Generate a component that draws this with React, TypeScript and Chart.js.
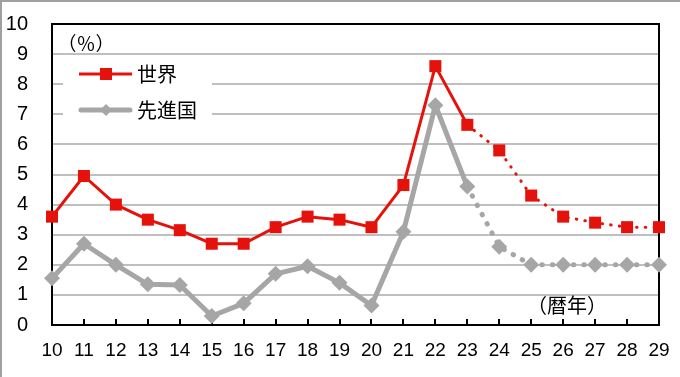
import React, { useEffect, useRef } from "react";
import { Chart, registerables } from "chart.js";

Chart.register(...registerables);

const years = ["10","11","12","13","14","15","16","17","18","19","20","21","22","23","24","25","26","27","28","29"];
const world = [3.6, 4.95, 4.0, 3.5, 3.15, 2.7, 2.7, 3.25, 3.6, 3.5, 3.25, 4.65, 8.6, 6.65, 5.8, 4.3, 3.6, 3.4, 3.25, 3.25];
const advanced = [1.55, 2.7, 2.0, 1.35, 1.33, 0.3, 0.72, 1.7, 1.95, 1.4, 0.65, 3.1, 7.3, 4.6, 2.6, 2.0, 2.0, 2.0, 2.0, 2.0];
const seriesNames = ["世界", "先進国"];
const forecastStart = 13; // index of "23"
const unitLabel = "（％）";
const xUnitLabel = "（暦年）";

const RED = "#E5120B";
const GRAY = "#A6A6A6";
const JP = '"Noto Sans CJK JP", "Noto Sans", sans-serif';
const NUM = '"Liberation Sans", Arial, sans-serif';

const decorPlugin = {
  id: "decor",
  beforeDatasetsDraw(chart: any) {
    const { ctx, chartArea, scales } = chart;
    const { left, right, top, bottom } = chartArea;
    const x = scales.x;
    ctx.save();
    ctx.strokeStyle = "#000";
    ctx.lineWidth = 2;
    for (let i = 0; i < years.length; i++) {
      const px = Math.round(x.getPixelForValue(i));
      ctx.beginPath();
      ctx.moveTo(px, bottom);
      ctx.lineTo(px, bottom - 6);
      ctx.stroke();
    }
    ctx.strokeRect(left, top, right - left, bottom - top);

    ctx.fillStyle = "#fff";
    ctx.fillRect(63, 62, 149, 60);
    ctx.lineCap = "butt";
    ctx.strokeStyle = RED;
    ctx.lineWidth = 3;
    ctx.beginPath();
    ctx.moveTo(79, 74);
    ctx.lineTo(132, 74);
    ctx.stroke();
    ctx.fillStyle = RED;
    ctx.fillRect(100, 68, 12, 12);
    ctx.strokeStyle = GRAY;
    ctx.lineWidth = 5;
    ctx.lineCap = "round";
    ctx.beginPath();
    ctx.moveTo(81, 110);
    ctx.lineTo(130, 110);
    ctx.stroke();
    ctx.fillStyle = GRAY;
    ctx.beginPath();
    ctx.moveTo(106, 104);
    ctx.lineTo(112, 110);
    ctx.lineTo(106, 116);
    ctx.lineTo(100, 110);
    ctx.closePath();
    ctx.fill();

    ctx.fillStyle = "#000";
    ctx.font = "20px " + JP;
    ctx.textAlign = "left";
    ctx.textBaseline = "middle";
    ctx.fillText(seriesNames[0], 137, 74);
    ctx.fillText(seriesNames[1], 137, 110);

    ctx.font = "19px " + JP;
    ctx.textAlign = "center";
    ctx.fillText(unitLabel, 86, 44);
    ctx.font = "20px " + JP;
    ctx.fillText(xUnitLabel, 567, 305);
    ctx.restore();
  },
  afterDraw(chart: any) {
    const { ctx, width, height } = chart;
    ctx.save();
    ctx.strokeStyle = "#A0A0A0";
    ctx.lineWidth = 2;
    ctx.beginPath();
    ctx.moveTo(0, 1);
    ctx.lineTo(width, 1);
    ctx.moveTo(1, 0);
    ctx.lineTo(1, height);
    ctx.stroke();
    ctx.restore();
  },
};

export default function App() {
  const ref = useRef<HTMLCanvasElement | null>(null);
  useEffect(() => {
    if (!ref.current) return;
    const dotted = (dash: number[]) => (c: any) => (c.p0DataIndex >= forecastStart ? dash : undefined);
    const chart = new Chart(ref.current, {
      type: "line",
      data: {
        labels: years,
        datasets: [
          {
            label: seriesNames[0],
            data: world,
            borderColor: RED,
            backgroundColor: RED,
            borderWidth: 3,
            borderCapStyle: "round",
            borderJoinStyle: "round",
            pointStyle: "rect",
            pointRadius: 8.5,
            pointBorderWidth: 0,
            pointBackgroundColor: RED,
            tension: 0,
            clip: false,
            segment: { borderDash: dotted([0.5, 8.2]) },
          } as any,
          {
            label: seriesNames[1],
            data: advanced,
            borderColor: GRAY,
            backgroundColor: GRAY,
            borderWidth: 5,
            borderCapStyle: "round",
            borderJoinStyle: "round",
            pointStyle: "rectRot",
            pointRadius: 8,
            pointBorderWidth: 0,
            pointBackgroundColor: GRAY,
            tension: 0,
            clip: false,
            segment: { borderDash: dotted([0.5, 10]) },
          } as any,
        ],
      },
      options: {
        responsive: false,
        animation: false,
        layout: { autoPadding: false, padding: { left: 0, top: 24, right: 21, bottom: 0 } },
        plugins: { legend: { display: false }, tooltip: { enabled: false } },
        scales: {
          x: {
            offset: false,
            grid: { display: false },
            border: { display: false },
            ticks: { color: "#000", font: { family: NUM, size: 19 }, padding: 6, maxRotation: 0, autoSkip: false },
            afterFit: (s: any) => { s.height = 52; s.paddingLeft = 0; s.paddingRight = 0; },
          },
          y: {
            min: 0,
            max: 10,
            grid: {
              color: (c: any) => (c.tick && (c.tick.value === 0 || c.tick.value === 10) ? "rgba(0,0,0,0)" : "#BFBFBF"),
              lineWidth: 2,
              drawTicks: false,
            },
            border: { display: false },
            ticks: { stepSize: 1, color: "#000", font: { family: NUM, size: 20 }, padding: 24 },
            afterFit: (s: any) => { s.width = 52; s.paddingTop = 0; s.paddingBottom = 0; },
          },
        },
      },
      plugins: [decorPlugin],
    });
    return () => chart.destroy();
  }, []);
  return (
    <div style={{ position: "absolute", left: 0, top: 0, width: 680, height: 377, background: "#fff" }}>
      <canvas ref={ref} width={680} height={377} style={{ display: "block" }} />
    </div>
  );
}
